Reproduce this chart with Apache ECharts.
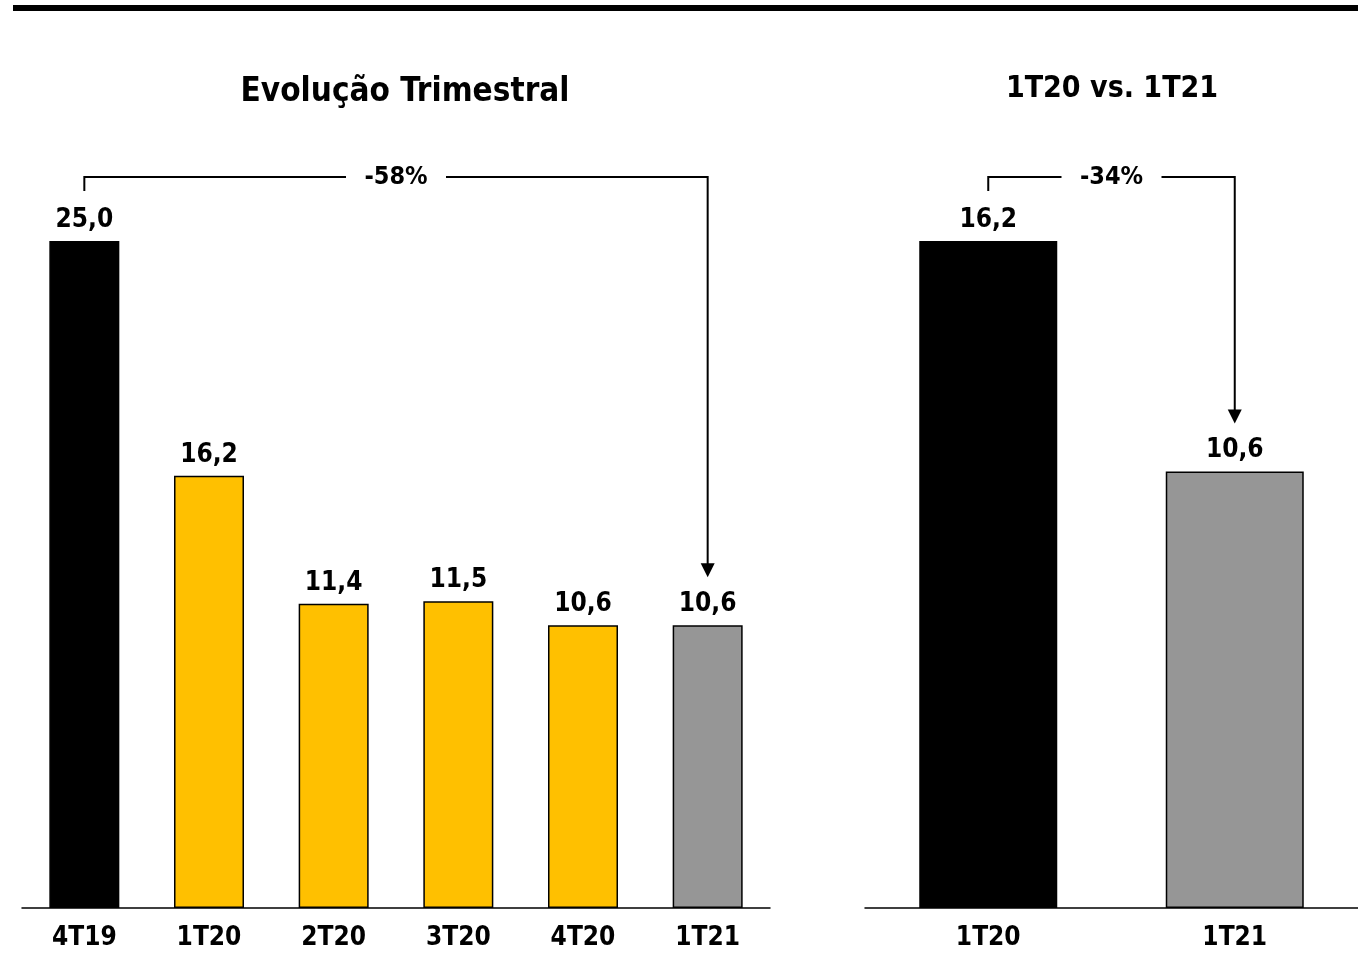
<!DOCTYPE html>
<html>
<head>
<meta charset="utf-8">
<script src="https://cdn.jsdelivr.net/npm/echarts@6/dist/echarts.min.js"></script>
<style>
  html, body { margin: 0; padding: 0; background: #fff; }
  #chart { width: 1358px; height: 957px; }
</style>
</head>
<body>
<div id="chart"></div>
<script>
const quarters = ["4T19", "1T20", "2T20", "3T20", "4T20", "1T21"];
const quarterValues = [25.0, 16.2, 11.4, 11.5, 10.6, 10.6];
const quarterColors = ["#000000", "#FFC000", "#FFC000", "#FFC000", "#FFC000", "#969696"];

const compareCats = ["1T20", "1T21"];
const compareValues = [16.2, 10.6];
const compareColors = ["#000000", "#969696"];

const leftChange = "-58%";
const rightChange = "-34%";

const FONT = "'DejaVu Sans Condensed', 'DejaVu Sans', sans-serif";

const fmt = (v) => v.toFixed(1).replace(".", ",");

const barData = (values, colors) =>
  values.map((value, i) => ({
    value,
    itemStyle: { color: colors[i], borderColor: "#000", borderWidth: 1.5 },
  }));

const labelStyle = {
  show: true,
  position: "top",
  distance: 8,
  fontFamily: FONT,
  fontSize: 26,
  fontWeight: "bold",
  color: "#000",
  formatter: (p) => fmt(p.value),
};

const axisLabelStyle = { fontFamily: FONT, fontSize: 26, fontWeight: "bold", color: "#000", margin: 17 };

const chart = echarts.init(document.getElementById("chart"));

chart.setOption({
  animation: false,
  title: [
    {
      text: "Evolução Trimestral",
      left: 400,
      top: 71,
      textAlign: "center",
      textStyle: { fontFamily: FONT, fontSize: 33, fontWeight: "bold", color: "#000" },
    },
    {
      text: "1T20 vs. 1T21",
      left: 1107,
      top: 69,
      textAlign: "center",
      textStyle: { fontFamily: FONT, fontSize: 30, fontWeight: "bold", color: "#000" },
    },
  ],
  grid: [
    { left: 22, width: 748, top: 241, bottom: 49 },
    { left: 865, width: 493, top: 241, bottom: 49 },
  ],
  xAxis: [
    {
      type: "category",
      gridIndex: 0,
      data: quarters,
      axisTick: { show: false },
      axisLine: { lineStyle: { color: "#000", width: 1.5 } },
      axisLabel: axisLabelStyle,
    },
    {
      type: "category",
      gridIndex: 1,
      data: compareCats,
      axisTick: { show: false },
      axisLine: { lineStyle: { color: "#000", width: 1.5 } },
      axisLabel: axisLabelStyle,
    },
  ],
  yAxis: [
    { type: "value", gridIndex: 0, min: 0, max: 25, show: false },
    { type: "value", gridIndex: 1, min: 0, max: 16.2, show: false },
  ],
  series: [
    {
      type: "bar",
      xAxisIndex: 0,
      yAxisIndex: 0,
      data: barData(quarterValues, quarterColors),
      barWidth: 70,
      label: labelStyle,
    },
    {
      type: "bar",
      xAxisIndex: 1,
      yAxisIndex: 1,
      data: barData(compareValues, compareColors),
      barWidth: 138,
      label: labelStyle,
    },
  ],
});

// brackets with arrow, positioned from the axes
function bracket(gridIdx, fromCat, toCat, fromVal, toVal, text) {
  const finder = { xAxisIndex: gridIdx, yAxisIndex: gridIdx };
  const a = chart.convertToPixel(finder, [fromCat, fromVal]);
  const b = chart.convertToPixel(finder, [toCat, toVal]);
  const lineY = 177;
  const startY = a[1] - 50;
  const tipY = b[1] - 48;
  const midX = (a[0] + b[0]) / 2;
  const gap = 50;
  const ls = { stroke: "#000", lineWidth: 2, fill: null };
  return [
    { type: "polyline", shape: { points: [[a[0], startY], [a[0], lineY], [midX - gap, lineY]] }, style: ls },
    { type: "polyline", shape: { points: [[midX + gap, lineY], [b[0], lineY], [b[0], tipY - 12]] }, style: ls },
    { type: "polygon", shape: { points: [[b[0] - 7, tipY - 14], [b[0] + 7, tipY - 14], [b[0], tipY]] }, style: { fill: "#000" } },
    {
      type: "text",
      x: midX,
      y: lineY,
      style: { text, fontFamily: FONT, fontSize: 25, fontWeight: "bold", fill: "#000", align: "center", verticalAlign: "middle" },
    },
  ];
}

chart.setOption({
  graphic: [
    { type: "rect", shape: { x: 13, y: 5, width: 1345, height: 6 }, style: { fill: "#000" } },
    ...bracket(0, quarters[0], quarters[5], quarterValues[0], quarterValues[5], leftChange),
    ...bracket(1, compareCats[0], compareCats[1], compareValues[0], compareValues[1], rightChange),
  ],
});
</script>
</body>
</html>
